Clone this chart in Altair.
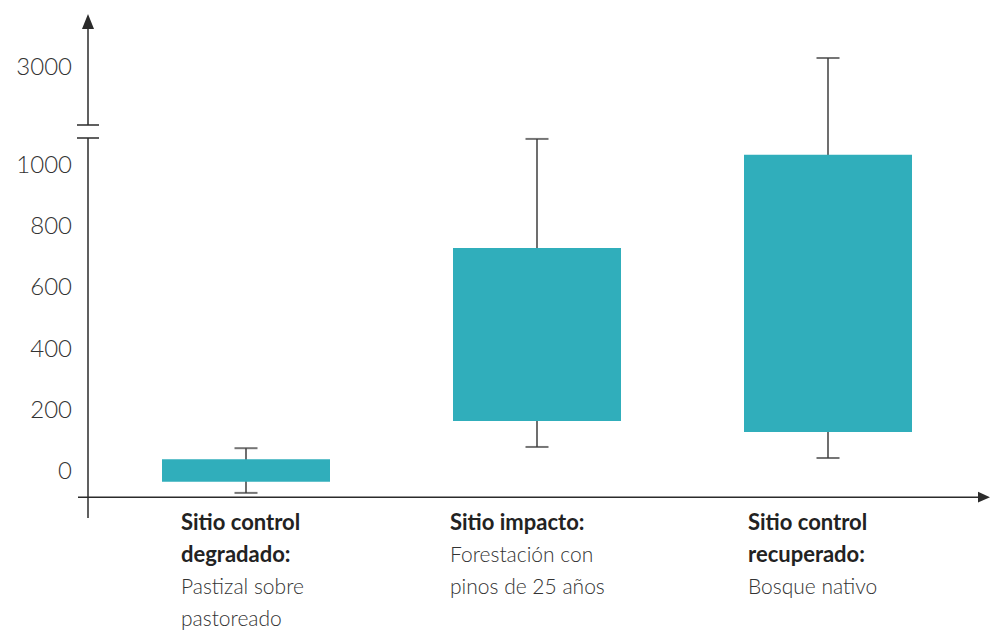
import altair as alt
import pandas as pd

# ---- data ----
categories = ["Sitio control degradado", "Sitio impacto", "Sitio control recuperado"]
whisker_low = [-68, 82, 46]
box_low = [-32, 167, 131]
box_high = [42, 732, 1036]
whisker_high = [78, 1088, 3033]

ytick_values = [0, 200, 400, 600, 800, 1000, 3000]
ytick_labels = ["0", "200", "400", "600", "800", "1000", "3000"]

label_line1 = ["Sitio control", "Sitio impacto:", "Sitio control"]
label_line2 = ["degradado:", "Forestación con", "recuperado:"]
label_line3 = ["Pastizal sobre", "pinos de 25 años", "Bosque nativo"]
label_line4 = ["pastoreado", "", ""]
bold_line_count = [2, 1, 2]

# broken-axis breakpoints (value units)
break_low = 1091
break_high = 2814
axis_min = -150
axis_max = 3190
x_axis_at = -82

# ---- tables ----
box_df = pd.DataFrame({
    "cat": categories,
    "lo": whisker_low,
    "q1": box_low,
    "q3": box_high,
    "hi": whisker_high,
})
tick_df = pd.DataFrame({"v": ytick_values, "label": ytick_labels})

rows = []
for ci, cat in enumerate(categories):
    for li, line in enumerate([label_line1, label_line2, label_line3, label_line4]):
        if line[ci]:
            rows.append({"cat": cat, "line": li, "text": line[ci],
                         "bold": li < bold_line_count[ci]})
label_df = pd.DataFrame(rows)

# ---- scales ----
W, H = 902, 508
xscale = alt.Scale(type="point", domain=categories, range=[158, 740], padding=0)
yscale = alt.Scale(type="linear", domain=[axis_min, break_low, break_high, axis_max],
                   range=[H, 128, 115, 0], zero=False, nice=False)
X = alt.X("cat:N", scale=xscale, axis=None, sort=categories)

TEAL = "#30AEBB"
WHISK = "#555555"
AXIS = "#2b2b2b"
FONT = "Lato"

base = alt.Chart(box_df)

whiskers = base.mark_rule(color=WHISK, strokeWidth=1.7).encode(
    x=X, y=alt.Y("lo:Q", scale=yscale, axis=None), y2="hi:Q")
caps_lo = base.mark_tick(color="#3a3a3a", size=23, thickness=2, orient="horizontal").encode(
    x=X, y=alt.Y("lo:Q", scale=yscale, axis=None))
caps_hi = base.mark_tick(color="#3a3a3a", size=23, thickness=2, orient="horizontal").encode(
    x=X, y=alt.Y("hi:Q", scale=yscale, axis=None))
boxes = base.mark_bar(color=TEAL, size=168).encode(
    x=X, y=alt.Y("q1:Q", scale=yscale, axis=None), y2="q3:Q")

# y tick labels
yticks = alt.Chart(tick_df).mark_text(
    align="right", baseline="middle", font=FONT, fontWeight=300, fontSize=24, color="#333333"
).encode(y=alt.Y("v:Q", scale=yscale, axis=None), x=alt.value(-16), text="label:N")

# axes drawn as rules
one = alt.Chart(pd.DataFrame({"a": [0]}))
x_axis = one.mark_rule(color=AXIS, strokeWidth=1.5).encode(
    y=alt.datum(x_axis_at, scale=yscale), x=alt.value(-10), x2=alt.value(892))
y_axis_low = one.mark_rule(color=AXIS, strokeWidth=1.5).encode(
    x=alt.value(0), y=alt.datum(axis_min, scale=yscale), y2=alt.datum(break_low))
y_axis_high = one.mark_rule(color=AXIS, strokeWidth=1.5).encode(
    x=alt.value(0), y=alt.datum(break_high, scale=yscale), y2=alt.value(18))
brk1 = one.mark_rule(color=AXIS, strokeWidth=1.5).encode(
    y=alt.datum(break_low, scale=yscale), x=alt.value(-11), x2=alt.value(11))
brk2 = one.mark_rule(color=AXIS, strokeWidth=1.5).encode(
    y=alt.datum(break_high, scale=yscale), x=alt.value(-11), x2=alt.value(11))
arrow_up = one.mark_point(shape="M0,-1L0.8,1L-0.8,1Z", filled=True, size=225,
                          color=AXIS, opacity=1).encode(
    x=alt.value(0), y=alt.value(11.5))
arrow_right = one.mark_point(shape="M1,0L-1,0.9L-1,-0.9Z", filled=True, size=144,
                             color=AXIS, opacity=1).encode(
    x=alt.value(896), y=alt.datum(x_axis_at, scale=yscale))

# category labels
label_dx = {categories[0]: -65, categories[1]: -87, categories[2]: -80}
baselines = [520, 552, 584, 616]
label_layers = []
for cat in categories:
    for li in range(4):
        sub = label_df[(label_df["cat"] == cat) & (label_df["line"] == li)]
        if sub.empty:
            continue
        bold = bool(sub["bold"].iloc[0])
        label_layers.append(
            alt.Chart(sub).mark_text(
                align="left", baseline="alphabetic", dx=label_dx[cat],
                font=FONT, fontSize=22 if bold else 21,
                fontWeight="bold" if bold else 300,
                color="#222222" if bold else "#333333",
            ).encode(x=X, y=alt.value(baselines[li]), text="text:N")
        )

chart = alt.layer(
    whiskers, caps_lo, caps_hi, boxes, yticks,
    x_axis, y_axis_low, y_axis_high, brk1, brk2, arrow_up, arrow_right,
    *label_layers,
).properties(
    width=W, height=H,
    padding={"left": 88, "top": 10, "right": 0, "bottom": 112},
    autosize=alt.AutoSizeParams(type="none"),
    background="white",
).configure_view(stroke=None)

chart.save("out.html", embed_options={"renderer": "svg", "actions": False})
